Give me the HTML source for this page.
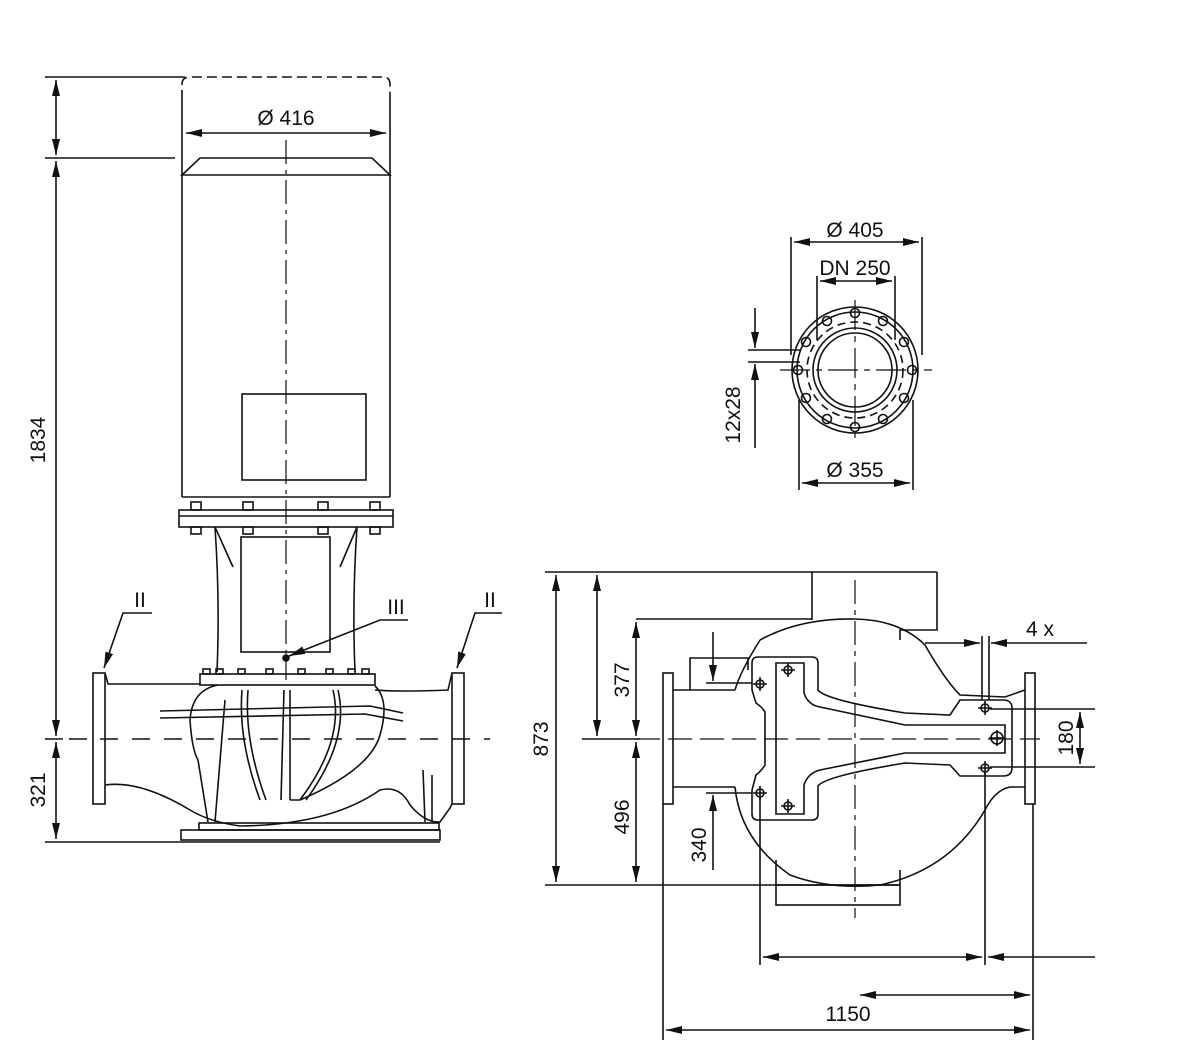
<!DOCTYPE html>
<html><head><meta charset="utf-8"><style>
html,body{margin:0;padding:0;background:#fff}
svg{display:block}
text{font-family:"Liberation Sans",sans-serif;font-size:21px;fill:#111}
</style></head><body>
<svg width="1200" height="1064" viewBox="0 0 1200 1064" xmlns="http://www.w3.org/2000/svg">
<defs>
<marker id="a" viewBox="0 0 16 8" refX="16" refY="4" markerWidth="16" markerHeight="8" orient="auto-start-reverse" markerUnits="userSpaceOnUse"><path d="M0,0 L16,4 L0,8 z" fill="#111"/></marker>
</defs>
<g stroke="#111" stroke-width="1.6" fill="none">
<!-- LEFT VIEW -->
<path d="M182,100 L182,84 Q182,77 190,77 L383,77 Q390,77 390,84 L390,100" stroke-dasharray="10,5"/>
<line x1="182" y1="100" x2="182" y2="497"/><line x1="390" y1="100" x2="390" y2="497"/>
<line x1="182" y1="497" x2="390" y2="497"/>
<path d="M182,175 L200,158 L372,158 L390,175 Z"/>
<line x1="45" y1="77" x2="185" y2="77"/><line x1="45" y1="158" x2="175" y2="158"/>
<line x1="186" y1="133" x2="386" y2="133" marker-start="url(#a)" marker-end="url(#a)"/>
<rect x="242" y="394" width="124" height="86"/>
<line x1="286" y1="140" x2="286" y2="680" stroke-dasharray="24,6,4,6" stroke-width="1.2"/>
<rect x="179" y="510" width="214" height="17"/>
<line x1="179" y1="516" x2="393" y2="516"/>
<g>
<rect x="191" y="502" width="10" height="8"/><rect x="243" y="502" width="10" height="8"/><rect x="318" y="502" width="10" height="8"/><rect x="370" y="502" width="10" height="8"/>
<rect x="191" y="527" width="10" height="7"/><rect x="243" y="527" width="10" height="7"/><rect x="318" y="527" width="10" height="7"/><rect x="370" y="527" width="10" height="7"/>
</g>
<path d="M215,527 Q220,600 217,672"/><path d="M357,527 Q352,600 355,672"/>
<line x1="215" y1="527" x2="233" y2="567"/><line x1="357" y1="527" x2="340" y2="567"/>
<rect x="241" y="537" width="89" height="115"/>
<rect x="200" y="674" width="175" height="11"/>
<g><rect x="203" y="669" width="7" height="5"/><rect x="216" y="669" width="7" height="5"/><rect x="238" y="669" width="7" height="5"/><rect x="266" y="669" width="7" height="5"/><rect x="298" y="669" width="7" height="5"/><rect x="326" y="669" width="7" height="5"/><rect x="348" y="669" width="7" height="5"/><rect x="362" y="669" width="7" height="5"/></g>
<circle cx="286" cy="658" r="3" fill="#111"/>
<rect x="93" y="673" width="12" height="131"/><rect x="452" y="673" width="12" height="131"/>
<path d="M105,673 L108,684 L200,684"/><path d="M375,690 Q400,692 448,690 L452,673"/>
<path d="M105,785 Q140,780 190,810 Q210,822 240,826 Q330,825 380,790 Q400,785 410,805 Q425,823 440,822 L450,808 L452,804"/>
<path d="M218,685 Q192,690 190,720 Q192,750 198,760 L208,822"/><path d="M375,686 Q390,700 380,735 Q370,770 300,800 L290,800"/>
<path d="M160,711 L370,706 L403,713"/><path d="M160,718 L365,714 L403,721"/>
<path d="M242,690 Q238,740 260,800"/><path d="M248,690 Q244,740 266,800"/>
<path d="M284,690 L281,800"/><path d="M290,690 L290,800"/>
<path d="M333,690 Q345,740 300,800"/><path d="M338,690 Q350,740 306,800"/>
<line x1="225" y1="700" x2="215" y2="822"/>
<line x1="423" y1="770" x2="425" y2="822"/><line x1="432" y1="775" x2="432" y2="822"/>
<rect x="199" y="823" width="240" height="7"/>
<rect x="181" y="830" width="259" height="10"/>
<line x1="45" y1="842" x2="440" y2="842"/>
<line x1="45" y1="739" x2="90" y2="739" stroke-dasharray="18,6"/>
<line x1="100" y1="739" x2="490" y2="739" stroke-dasharray="18,14"/>
<line x1="56" y1="80" x2="56" y2="155" marker-start="url(#a)" marker-end="url(#a)"/>
<line x1="56" y1="161" x2="56" y2="736" marker-start="url(#a)" marker-end="url(#a)"/>
<line x1="56" y1="742" x2="56" y2="839" marker-start="url(#a)" marker-end="url(#a)"/>
<polyline points="152,613 123,613 104,668" marker-end="url(#a)"/>
<polyline points="408,620 380,620 289,656" marker-end="url(#a)"/>
<polyline points="502,613 475,613 457,668" marker-end="url(#a)"/>

<!-- FLANGE VIEW -->
<circle cx="855" cy="370" r="63"/><circle cx="855" cy="370" r="58"/>
<circle cx="855" cy="370" r="48" stroke-dasharray="8,5"/>
<circle cx="855" cy="370" r="42"/><circle cx="855" cy="370" r="37"/>
<g>
<circle cx="912" cy="370" r="4.5"/><circle cx="904" cy="398" r="4.5"/><circle cx="883" cy="419" r="4.5"/><circle cx="855" cy="427" r="4.5"/><circle cx="827" cy="419" r="4.5"/><circle cx="806" cy="398" r="4.5"/><circle cx="798" cy="370" r="4.5"/><circle cx="806" cy="342" r="4.5"/><circle cx="827" cy="321" r="4.5"/><circle cx="855" cy="313" r="4.5"/><circle cx="883" cy="321" r="4.5"/><circle cx="904" cy="342" r="4.5"/>
</g>
<line x1="780" y1="370" x2="932" y2="370" stroke-dasharray="30,6,6,6" stroke-width="1.2"/>
<line x1="855" y1="300" x2="855" y2="440" stroke-dasharray="30,6,6,6" stroke-width="1.2"/>
<line x1="791" y1="237" x2="791" y2="355"/><line x1="922" y1="237" x2="922" y2="355"/>
<line x1="794" y1="242" x2="919" y2="242" marker-start="url(#a)" marker-end="url(#a)"/>
<line x1="817" y1="276" x2="817" y2="340"/><line x1="895" y1="276" x2="895" y2="340"/>
<line x1="820" y1="281" x2="892" y2="281" marker-start="url(#a)" marker-end="url(#a)"/>
<line x1="799" y1="400" x2="799" y2="490"/><line x1="913" y1="400" x2="913" y2="490"/>
<line x1="802" y1="483" x2="910" y2="483" marker-start="url(#a)" marker-end="url(#a)"/>
<line x1="748" y1="350" x2="800" y2="350"/><line x1="748" y1="362" x2="800" y2="362"/>
<line x1="755" y1="308" x2="755" y2="348" marker-end="url(#a)"/>
<line x1="755" y1="448" x2="755" y2="364" marker-end="url(#a)"/>

<!-- PLAN VIEW -->
<line x1="545" y1="572" x2="937" y2="572"/>
<line x1="812" y1="572" x2="812" y2="620"/>
<polyline points="937,572 937,630 900,630 900,640"/>
<line x1="636" y1="619" x2="812" y2="619"/>
<path d="M760,640 Q800,618 855,619 Q900,620 925,645 Q945,680 960,695 L1005,697 L1025,690"/>
<path d="M735,690 Q740,672 760,640"/>
<path d="M735,787 Q740,840 790,875 Q830,890 880,885 Q950,870 985,810 Q995,790 1010,787 L1025,787"/>
<rect x="663" y="673" width="10" height="131"/><rect x="1025" y="673" width="10" height="131"/>
<polyline points="673,690 735,690"/><polyline points="673,787 735,787"/>
<polyline points="690,690 690,658 748,658 748,670"/>
<path d="M758,657 L812,657 Q818,657 818,663 L818,690 Q825,700 905,713 L950,715 L960,700 L1003,700 Q1012,700 1012,708 L1012,768 Q1012,776 1003,776 L960,776 L950,765 L905,763 Q825,776 818,786 L818,814 Q818,820 812,820 L758,820 Q752,820 752,814 L752,790 L756,775 Q762,770 765,765 L765,712 Q762,707 756,703 L752,690 L752,663 Q752,657 758,657 Z"/>
<path d="M776,663 L804,663 L804,693 Q808,705 820,707 L905,725 L1005,725 L1005,753 L905,753 L820,770 Q808,773 804,785 L804,814 L776,814 Z"/>
<g>
<circle cx="760" cy="684" r="4"/><circle cx="788" cy="670" r="4"/><circle cx="760" cy="793" r="4"/><circle cx="788" cy="806" r="4"/><circle cx="985" cy="708" r="4"/><circle cx="985" cy="768" r="4"/><circle cx="997" cy="738" r="6"/>
<path d="M753,684h14M760,677v14M781,670h14M788,663v14M753,793h14M760,786v14M781,806h14M788,799v14M978,708h14M985,701v14M978,768h14M985,761v14M989,738h16M997,730v16"/>
</g>
<rect x="776" y="885" width="124" height="20"/>
<line x1="776" y1="860" x2="776" y2="885"/><line x1="900" y1="870" x2="900" y2="885"/>
<line x1="545" y1="885" x2="900" y2="885"/>
<line x1="636" y1="739" x2="1040" y2="739" stroke-dasharray="24,8" stroke-width="1.2"/>
<line x1="582" y1="739" x2="640" y2="739"/>
<line x1="855" y1="580" x2="855" y2="918" stroke-dasharray="24,6,5,6" stroke-width="1.2"/>
<line x1="556" y1="575" x2="556" y2="882" marker-start="url(#a)" marker-end="url(#a)"/>
<line x1="597" y1="575" x2="597" y2="736" marker-start="url(#a)" marker-end="url(#a)"/>
<line x1="636" y1="622" x2="636" y2="736" marker-start="url(#a)" marker-end="url(#a)"/>
<line x1="636" y1="742" x2="636" y2="882" marker-start="url(#a)" marker-end="url(#a)"/>
<line x1="706" y1="683" x2="752" y2="683"/><line x1="706" y1="793" x2="752" y2="793"/>
<line x1="713" y1="632" x2="713" y2="681" marker-end="url(#a)"/>
<line x1="713" y1="870" x2="713" y2="795" marker-end="url(#a)"/>
<line x1="990" y1="709" x2="1095" y2="709"/><line x1="990" y1="767" x2="1095" y2="767"/>
<line x1="1080" y1="712" x2="1080" y2="764" marker-start="url(#a)" marker-end="url(#a)"/>
<line x1="982" y1="636" x2="982" y2="700"/><line x1="989" y1="636" x2="989" y2="700"/>
<line x1="925" y1="643" x2="980" y2="643" marker-end="url(#a)"/>
<line x1="1087" y1="643" x2="991" y2="643" marker-end="url(#a)"/>
<line x1="663" y1="804" x2="663" y2="1040"/><line x1="760" y1="797" x2="760" y2="965"/>
<line x1="985" y1="773" x2="985" y2="965"/><line x1="1033" y1="804" x2="1033" y2="1040"/>
<line x1="763" y1="957" x2="982" y2="957" marker-start="url(#a)" marker-end="url(#a)"/>
<line x1="1095" y1="957" x2="988" y2="957" marker-end="url(#a)"/>
<line x1="860" y1="995" x2="1030" y2="995" marker-start="url(#a)" marker-end="url(#a)"/>
<line x1="666" y1="1030" x2="1030" y2="1030" marker-start="url(#a)" marker-end="url(#a)"/>
</g>
<g>
<text x="286" y="125" text-anchor="middle">Ø 416</text>
<text transform="translate(45,440) rotate(-90)" text-anchor="middle">1834</text>
<text transform="translate(45,790) rotate(-90)" text-anchor="middle">321</text>
<text x="140" y="607" text-anchor="middle">II</text>
<text x="396" y="614" text-anchor="middle">III</text>
<text x="490" y="607" text-anchor="middle">II</text>
<text x="855" y="237" text-anchor="middle">Ø 405</text>
<text x="855" y="275" text-anchor="middle">DN 250</text>
<text x="855" y="477" text-anchor="middle">Ø 355</text>
<text transform="translate(740,415) rotate(-90)" text-anchor="middle">12x28</text>
<text transform="translate(548,739) rotate(-90)" text-anchor="middle">873</text>
<text transform="translate(629,680) rotate(-90)" text-anchor="middle">377</text>
<text transform="translate(629,817) rotate(-90)" text-anchor="middle">496</text>
<text transform="translate(706,845) rotate(-90)" text-anchor="middle">340</text>
<text transform="translate(1073,738) rotate(-90)" text-anchor="middle">180</text>
<text x="1040" y="636" text-anchor="middle">4 x</text>
<text x="848" y="1021" text-anchor="middle">1150</text>
</g>
</svg>
</body></html>
